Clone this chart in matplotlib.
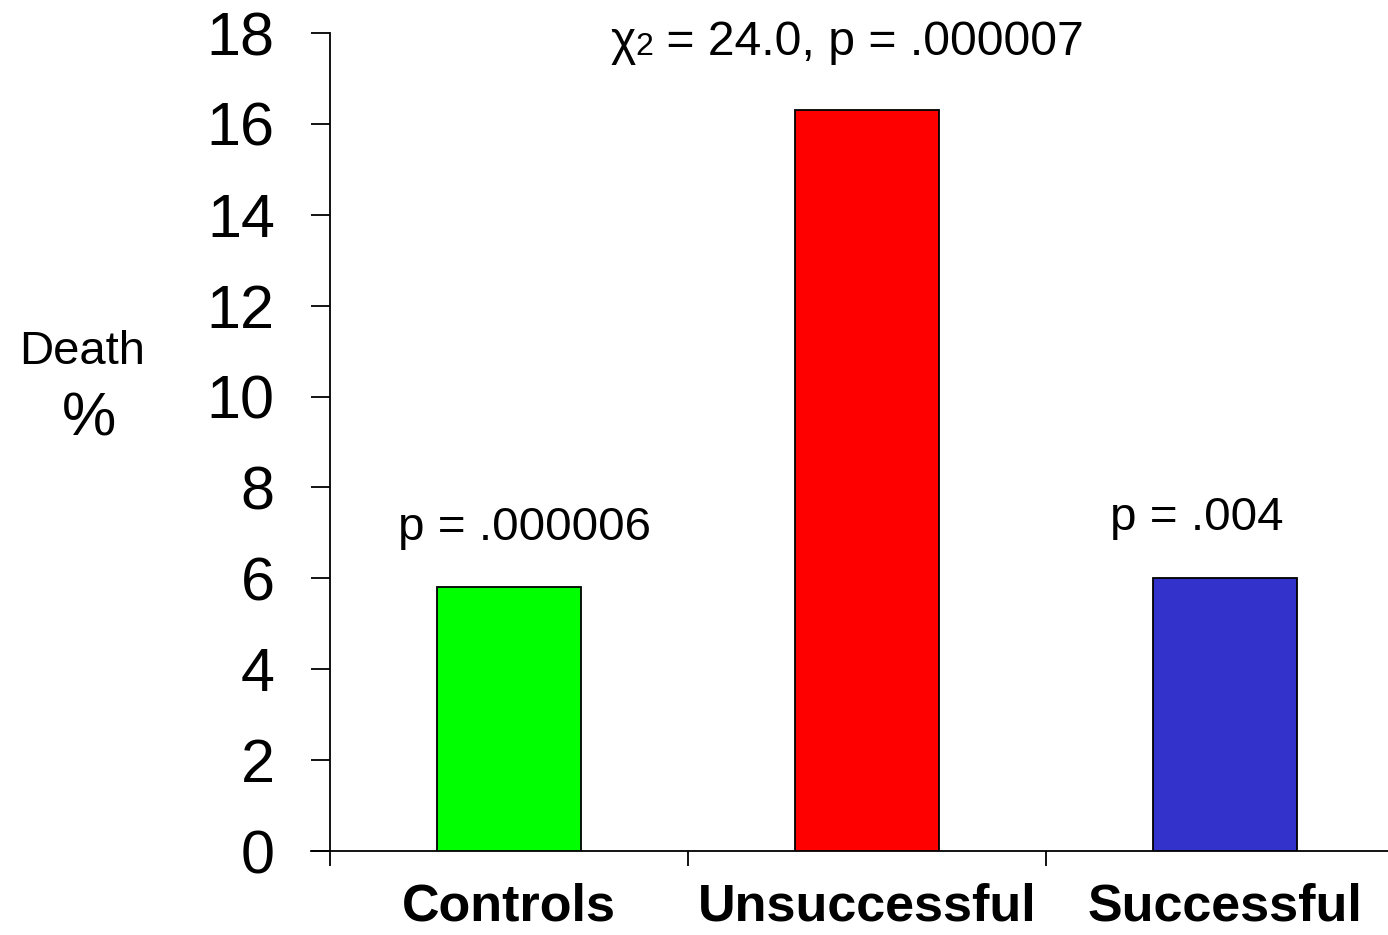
import matplotlib
matplotlib.use("Agg")
import matplotlib.pyplot as plt
from matplotlib.offsetbox import TextArea, HPacker, AnnotationBbox

plt.rcParams['font.family'] = ['Liberation Sans', 'DejaVu Sans']

# Data
categories = ["Controls", "Unsuccessful", "Successful"]
death_pct = [5.8, 16.3, 6.0]
bar_colors = ["#00FF00", "#FF0000", "#3333CC"]
y_ticks = [0, 2, 4, 6, 8, 10, 12, 14, 16, 18]
p_labels = ["p = .000006", None, "p = .004"]
chi_label = ("χ", "2", " = 24.0, p = .000007")

fig = plt.figure(figsize=(13.88, 9.35), dpi=100)
ax = fig.add_axes([311 / 1388, 1 - 851 / 935, 1 - 311 / 1388, (851 - 33) / 935])

x = list(range(len(categories)))
ax.bar(x, death_pct, width=0.4, color=bar_colors, edgecolor="black", linewidth=1.3, zorder=3)

ax.set_xlim(-0.5 - 19 / 358, -0.5 + (1388 - 330) / 358)
ax.set_ylim(0, 18)

for s in ("top", "right"):
    ax.spines[s].set_visible(False)
ax.spines["left"].set_position(("data", -0.5))
ax.spines["left"].set_bounds(0, 18)
for s in ("left", "bottom"):
    ax.spines[s].set_linewidth(1.3)

ax.set_yticks(y_ticks)
ax.set_yticklabels([str(t) for t in y_ticks])
ax.tick_params(axis="y", direction="out", length=13.7, width=1.3, pad=26, labelsize=44)

# Category separators as major ticks, names as minor ticks
ax.set_xticks([-0.5, 0.5, 1.5])
ax.set_xticklabels([])
ax.set_xticks(x, minor=True)
ax.set_xticklabels(categories, minor=True, fontsize=37.5, fontweight="bold")
ax.tick_params(axis="x", which="major", direction="out", length=10.8, width=1.3)
ax.tick_params(axis="x", which="minor", length=0, pad=23)

# p-value labels over the outer bars
p_pos = [(0.042, 6.84), None, (1.922, 7.06)]
for lab, pos in zip(p_labels, p_pos):
    if lab:
        ax.text(pos[0], pos[1], lab, fontsize=34.2, ha="center", va="baseline")

# Chi-square label at the top
parts = [
    TextArea(chi_label[0], textprops=dict(fontsize=34.7, family="Liberation Sans")),
    TextArea(chi_label[1], textprops=dict(fontsize=23, family="Liberation Sans")),
    TextArea(chi_label[2], textprops=dict(fontsize=34.7, family="Liberation Sans")),
]
pack = HPacker(children=parts, align="baseline", pad=0, sep=0)
ab = AnnotationBbox(pack, (0.944, 17.8), xycoords="data", frameon=False,
                    box_alignment=(0.5, 0.5), annotation_clip=False)
ax.add_artist(ab)

# Axis title
fig.text(82 / 1388, 1 - 352 / 935, "Death", fontsize=34, ha="center", va="center")
fig.text(89 / 1388, 1 - 420 / 935, "%", fontsize=44, ha="center", va="center")

fig.savefig("out.png", dpi=100)
